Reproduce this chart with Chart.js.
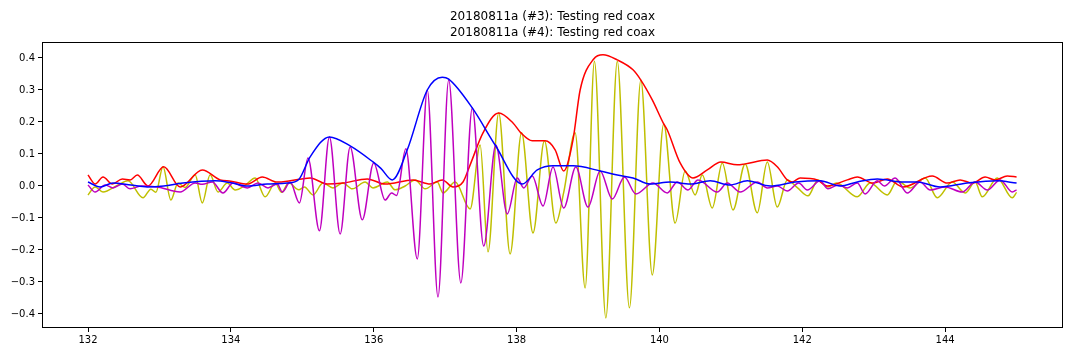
<!DOCTYPE html>
<html>
<head>
<meta charset="utf-8">
<script src="https://cdn.jsdelivr.net/npm/chart.js@4"></script>
<style>
  body { margin: 0; background: #fff; }
  canvas { display: block; }
</style>
</head>
<body>
<canvas id="chart" width="1080" height="360"></canvas>
<script>
// Tick labels
const xTicks = [132, 134, 136, 138, 140, 142, 144];
const yTicks = [-0.4, -0.3, -0.2, -0.1, 0, 0.1, 0.2, 0.3, 0.4];

// #3 signal (yellow) and its envelope (red)
const yellowX = [132.00, 132.10, 132.21, 132.42, 132.56, 132.77, 132.88, 132.95, 133.05, 133.16, 133.26, 133.36, 133.50, 133.60, 133.71, 133.82, 133.95, 134.06, 134.20, 134.34, 134.48, 134.62, 134.71, 134.81, 134.95, 135.03, 135.15, 135.29, 135.43, 135.57, 135.70, 135.88, 135.99, 136.19, 136.30, 136.44, 136.58, 136.72, 136.89, 136.97, 137.14, 137.35, 137.49, 137.60, 137.75, 137.91, 138.07, 138.23, 138.39, 138.55, 138.66, 138.82, 138.96, 139.09, 139.25, 139.41, 139.58, 139.74, 139.90, 140.06, 140.22, 140.36, 140.50, 140.60, 140.74, 140.88, 141.03, 141.20, 141.37, 141.51, 141.65, 141.79, 141.93, 142.08, 142.22, 142.36, 142.48, 142.77, 142.95, 143.19, 143.33, 143.51, 143.72, 143.89, 144.10, 144.28, 144.42, 144.52, 144.73, 144.94, 145.00];
const yellowY = [-0.028, -0.003, -0.019, 0.003, 0.016, -0.037, -0.01, -0.02, 0.06, -0.044, 0.009, -0.005, 0.035, -0.053, 0.035, -0.019, 0.009, -0.0125, 0.002, 0.025, -0.034, 0.009, -0.02, 0.01, -0.012, -0.003, -0.028, 0.009, -0.006, 0.009, -0.009, 0.012, -0.006, 0.012, -0.012, 0.0, 0.019, -0.009, 0.012, -0.022, 0.012, -0.072, 0.128, -0.206, 0.228, -0.2125, 0.166, -0.147, 0.141, -0.116, -0.02, 0.166, -0.319, 0.39, -0.4125, 0.39, -0.381, 0.331, -0.278, 0.194, -0.116, 0.047, -0.028, 0.034, -0.069, 0.072, -0.075, 0.069, -0.084, 0.075, -0.066, 0.019, -0.005, -0.031, 0.019, -0.003, 0.009, -0.034, 0.009, -0.028, 0.016, -0.006, 0.025, -0.037, 0.012, -0.022, 0.012, -0.034, 0.025, -0.037, -0.02];

const redX = [132.00, 132.10, 132.21, 132.34, 132.48, 132.59, 132.69, 132.84, 133.06, 133.29, 133.60, 133.85, 134.00, 134.23, 134.44, 134.65, 134.83, 135.11, 135.35, 135.57, 135.91, 136.16, 136.55, 136.79, 136.96, 137.11, 137.25, 137.35, 137.53, 137.75, 137.95, 138.06, 138.22, 138.40, 138.54, 138.66, 138.79, 138.89, 139.08, 139.21, 139.41, 139.63, 139.74, 139.90, 140.06, 140.11, 140.29, 140.47, 140.67, 140.86, 141.09, 141.20, 141.51, 141.65, 141.79, 141.86, 141.97, 142.21, 142.35, 142.63, 142.77, 142.99, 143.19, 143.41, 143.82, 144.03, 144.21, 144.38, 144.56, 144.70, 144.87, 145.00];
const redY = [0.034, 0.006, 0.028, 0.006, 0.022, 0.019, 0.034, 0.0, 0.06, -0.003, 0.05, 0.019, 0.015, 0.006, 0.028, 0.012, 0.016, 0.025, 0.006, 0.009, 0.022, 0.006, 0.019, 0.006, 0.019, -0.003, 0.0125, 0.066, 0.166, 0.228, 0.197, 0.166, 0.141, 0.141, 0.113, 0.047, 0.144, 0.30, 0.397, 0.41, 0.394, 0.363, 0.331, 0.269, 0.194, 0.175, 0.072, 0.025, 0.05, 0.075, 0.066, 0.069, 0.081, 0.06, 0.019, 0.0125, 0.025, 0.019, 0.0, 0.019, 0.028, 0.009, 0.022, -0.003, 0.031, 0.009, 0.019, 0.009, 0.028, 0.019, 0.031, 0.028];

// #4 signal (magenta) and its envelope (blue)
const magentaX = [132.00, 132.10, 132.24, 132.35, 132.48, 132.59, 132.75, 132.97, 133.29, 133.50, 133.60, 133.74, 133.89, 134.03, 134.23, 134.38, 134.52, 134.65, 134.72, 134.83, 134.96, 135.08, 135.24, 135.38, 135.53, 135.67, 135.84, 136.00, 136.16, 136.25, 136.32, 136.45, 136.61, 136.75, 136.90, 137.05, 137.22, 137.38, 137.54, 137.71, 137.87, 138.01, 138.10, 138.22, 138.37, 138.51, 138.66, 138.83, 139.00, 139.17, 139.34, 139.51, 139.67, 139.91, 140.11, 140.25, 140.40, 140.54, 140.81, 140.95, 141.13, 141.37, 141.51, 141.65, 141.79, 141.95, 142.07, 142.25, 142.36, 142.50, 142.63, 142.77, 142.88, 143.05, 143.15, 143.30, 143.47, 143.65, 143.79, 144.00, 144.24, 144.42, 144.59, 144.77, 144.94, 145.00];
const magentaY = [0.003, -0.019, 0.003, -0.006, 0.006, -0.009, 0.0, -0.003, -0.019, 0.009, 0.005, 0.0125, -0.022, 0.009, -0.006, 0.009, -0.006, 0.006, -0.019, 0.012, -0.053, 0.0875, -0.14, 0.153, -0.15, 0.122, -0.106, 0.072, -0.044, -0.022, -0.03, 0.116, -0.228, 0.30, -0.347, 0.331, -0.303, 0.244, -0.1875, 0.128, -0.0875, 0.025, -0.006, 0.031, -0.0625, 0.059, -0.069, 0.059, -0.066, 0.047, -0.041, 0.028, -0.025, 0.009, -0.022, 0.0125, -0.0125, 0.019, -0.019, 0.009, -0.019, 0.0125, -0.006, 0.0, -0.016, 0.009, -0.0125, 0.016, -0.009, 0.003, -0.006, 0.009, -0.025, 0.016, 0.0, 0.025, -0.022, 0.0125, -0.0125, -0.003, -0.019, 0.0125, -0.0125, 0.019, -0.019, -0.012];

const blueX = [132.00, 132.17, 132.35, 132.60, 132.83, 133.06, 133.33, 133.78, 134.00, 134.23, 134.51, 134.79, 134.95, 135.11, 135.38, 135.67, 135.99, 136.10, 136.26, 136.47, 136.75, 136.96, 137.05, 137.38, 137.70, 138.08, 138.29, 138.51, 138.79, 139.17, 139.41, 139.63, 139.87, 140.15, 140.43, 140.71, 140.99, 141.23, 141.55, 141.90, 142.25, 142.53, 142.77, 143.05, 143.41, 143.61, 143.93, 144.31, 144.73, 145.00];
const blueY = [0.0125, -0.003, 0.009, 0.003, -0.003, 0.0, 0.009, 0.016, 0.01, 0.0, 0.006, 0.009, 0.02, 0.091, 0.153, 0.125, 0.075, 0.055, 0.019, 0.113, 0.30, 0.34, 0.334, 0.244, 0.128, 0.006, 0.05, 0.063, 0.063, 0.047, 0.034, 0.025, 0.006, 0.0125, 0.006, 0.016, 0.003, 0.016, 0.0, 0.012, 0.016, 0.0, 0.0125, 0.022, 0.0125, 0.0125, -0.003, 0.009, 0.016, 0.009];

function points(xs, ys) {
  return xs.map((x, i) => ({ x: x, y: ys[i] }));
}

function series(xs, ys, color, order) {
  return {
    data: points(xs, ys),
    borderColor: color,
    borderWidth: 1.5,
    pointRadius: 0,
    fill: false,
    cubicInterpolationMode: 'monotone',
    order: order
  };
}

// draws the box round the plot, like matplotlib's spines
const frame = {
  id: 'frame',
  afterDraw(chart) {
    const a = chart.chartArea;
    const ctx = chart.ctx;
    ctx.save();
    ctx.strokeStyle = '#000';
    ctx.lineWidth = 1;
    ctx.strokeRect(Math.round(a.left) + 0.5, Math.round(a.top) + 0.5,
      Math.round(a.right - a.left) - 1, Math.round(a.bottom - a.top) - 1);
    ctx.restore();
  }
};

const tickFont = { family: 'DejaVu Sans', size: 10 };

new Chart(document.getElementById('chart'), {
  type: 'line',
  data: {
    datasets: [
      series(yellowX, yellowY, '#bfbf00', 4),
      series(redX, redY, '#ff0000', 3),
      series(magentaX, magentaY, '#bf00bf', 2),
      series(blueX, blueY, '#0000ff', 1)
    ]
  },
  options: {
    responsive: false,
    animation: false,
    devicePixelRatio: 1,
    layout: { padding: { left: 0, right: 17, top: 0, bottom: 0 } },
    scales: {
      x: {
        type: 'linear',
        min: 131.356,
        max: 145.65,
        afterBuildTicks: (scale) => { scale.ticks = xTicks.map(v => ({ value: v })); },
        afterFit: (scale) => { scale.height = 32; },
        border: { display: false },
        grid: { display: true, drawOnChartArea: false, drawTicks: true, tickLength: 4, color: '#000' },
        ticks: {
          color: '#000',
          font: tickFont,
          padding: 2,
          maxRotation: 0,
          callback: (v) => String(v)
        }
      },
      y: {
        type: 'linear',
        min: -0.444,
        max: 0.45,
        afterBuildTicks: (scale) => { scale.ticks = yTicks.map(v => ({ value: v })); },
        afterFit: (scale) => { scale.width = 42; },
        border: { display: false },
        grid: { display: true, drawOnChartArea: false, drawTicks: true, tickLength: 4, color: '#000' },
        ticks: {
          color: '#000',
          font: tickFont,
          padding: 3,
          callback: (v) => (v < -1e-9 ? '\u2212' : '') + Math.abs(v).toFixed(1)
        }
      }
    },
    plugins: {
      legend: { display: false },
      tooltip: { enabled: false },
      title: {
        display: true,
        fullSize: false,
        text: ['20180811a (#3): Testing red coax', '20180811a (#4): Testing red coax'],
        color: '#000',
        font: { family: 'DejaVu Sans', size: 12, weight: 'normal', lineHeight: 1.333 },
        padding: { top: 9, bottom: 1 }
      }
    }
  },
  plugins: [frame]
});
</script>
</body>
</html>
